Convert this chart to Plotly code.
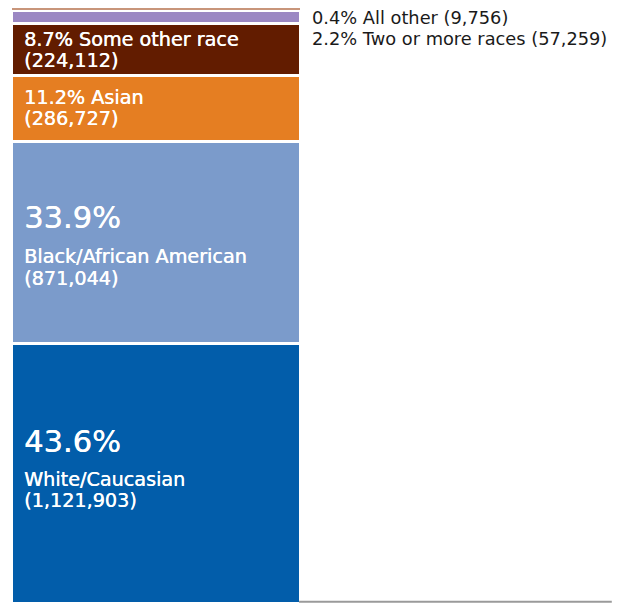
import plotly.graph_objects as go

# Population by race, stacked bottom to top
groups = ["White/Caucasian", "Black/African American", "Asian",
          "Some other race", "Two or more races", "All other"]
counts = [1121903, 871044, 286727, 224112, 57259, 9756]
pct_labels = ["43.6", "33.9", "11.2", "8.7", "2.2", "0.4"]
colors = ["#025DAA", "#7B9BCB", "#E57E22", "#621C00", "#9B88C3", "#C8957A"]
# White separators between segments; the sliver on top gets none
gap_widths = [2.5, 2.5, 2.5, 2.5, 2.5, 0]

FONT = "DejaVu Sans"
total = sum(counts)

fig = go.Figure()
for name, n, c, lw in zip(groups, counts, colors, gap_widths):
    fig.add_trace(go.Bar(
        x=[0], y=[n], width=1, name=name,
        marker=dict(color=c, line=dict(color="white", width=lw)),
        hoverinfo="skip",
    ))

# Segment midpoints in data units
bases = [sum(counts[:i]) for i in range(len(counts))]
centers = [b + n / 2 for b, n in zip(bases, counts)]

annotations = []


def inner(idx, text, size, shift):
    annotations.append(dict(
        x=-0.5, y=centers[idx], xref="x", yref="y",
        text=text, showarrow=False, xanchor="left", yanchor="middle",
        align="left", xshift=12, yshift=shift, borderpad=0, borderwidth=0,
        font=dict(family=FONT, size=size, color="white",
                  shadow="0.4px 0 0 white"),
    ))


# Large segments: big percentage, then name and count
inner(0, f"{pct_labels[0]}%", 30.5, 32)
inner(0, groups[0], 19.2, -6)
inner(0, f"({counts[0]:,})", 19.2, -27)
inner(1, f"{pct_labels[1]}%", 30.5, 25.5)
inner(1, groups[1], 19.2, -13.5)
inner(1, f"({counts[1]:,})", 19.2, -35.5)
# Mid segments: percentage and name on one line, count below
inner(2, f"{pct_labels[2]}% {groups[2]}", 19.2, 11.5)
inner(2, f"({counts[2]:,})", 19.2, -9.5)
inner(3, f"{pct_labels[3]}% {groups[3]}", 19.2, 9.5)
inner(3, f"({counts[3]:,})", 19.2, -11.5)

# Thin segments are labelled to the right of the bar
for k, idx in enumerate([5, 4]):
    annotations.append(dict(
        x=0.5, y=total, xref="x", yref="y",
        text=f"{pct_labels[idx]}% {groups[idx]} ({counts[idx]:,})",
        showarrow=False, xanchor="left", yanchor="middle",
        xshift=12, yshift=-9 - 21 * k, borderpad=0, borderwidth=0,
        font=dict(family=FONT, size=17.8, color="#1a1a1a"),
    ))

bar_px = 288.0
left_px = 12.0
x0 = -0.5 - left_px / bar_px
x1 = x0 + 623.0 / bar_px

fig.update_layout(
    width=623, height=603,
    margin=dict(l=0, r=0, t=8, b=0),
    barmode="stack",
    showlegend=False,
    paper_bgcolor="white", plot_bgcolor="white",
    xaxis=dict(range=[x0, x1], visible=False, fixedrange=True),
    yaxis=dict(range=[0, total], visible=False, fixedrange=True),
    annotations=annotations,
    shapes=[dict(type="line", xref="paper", yref="paper",
                 x0=0.48, x1=0.982, y0=0.002, y1=0.002,
                 line=dict(color="#9a9a9a", width=2))],
)

fig.write_html("out.html", config={"displayModeBar": False})
